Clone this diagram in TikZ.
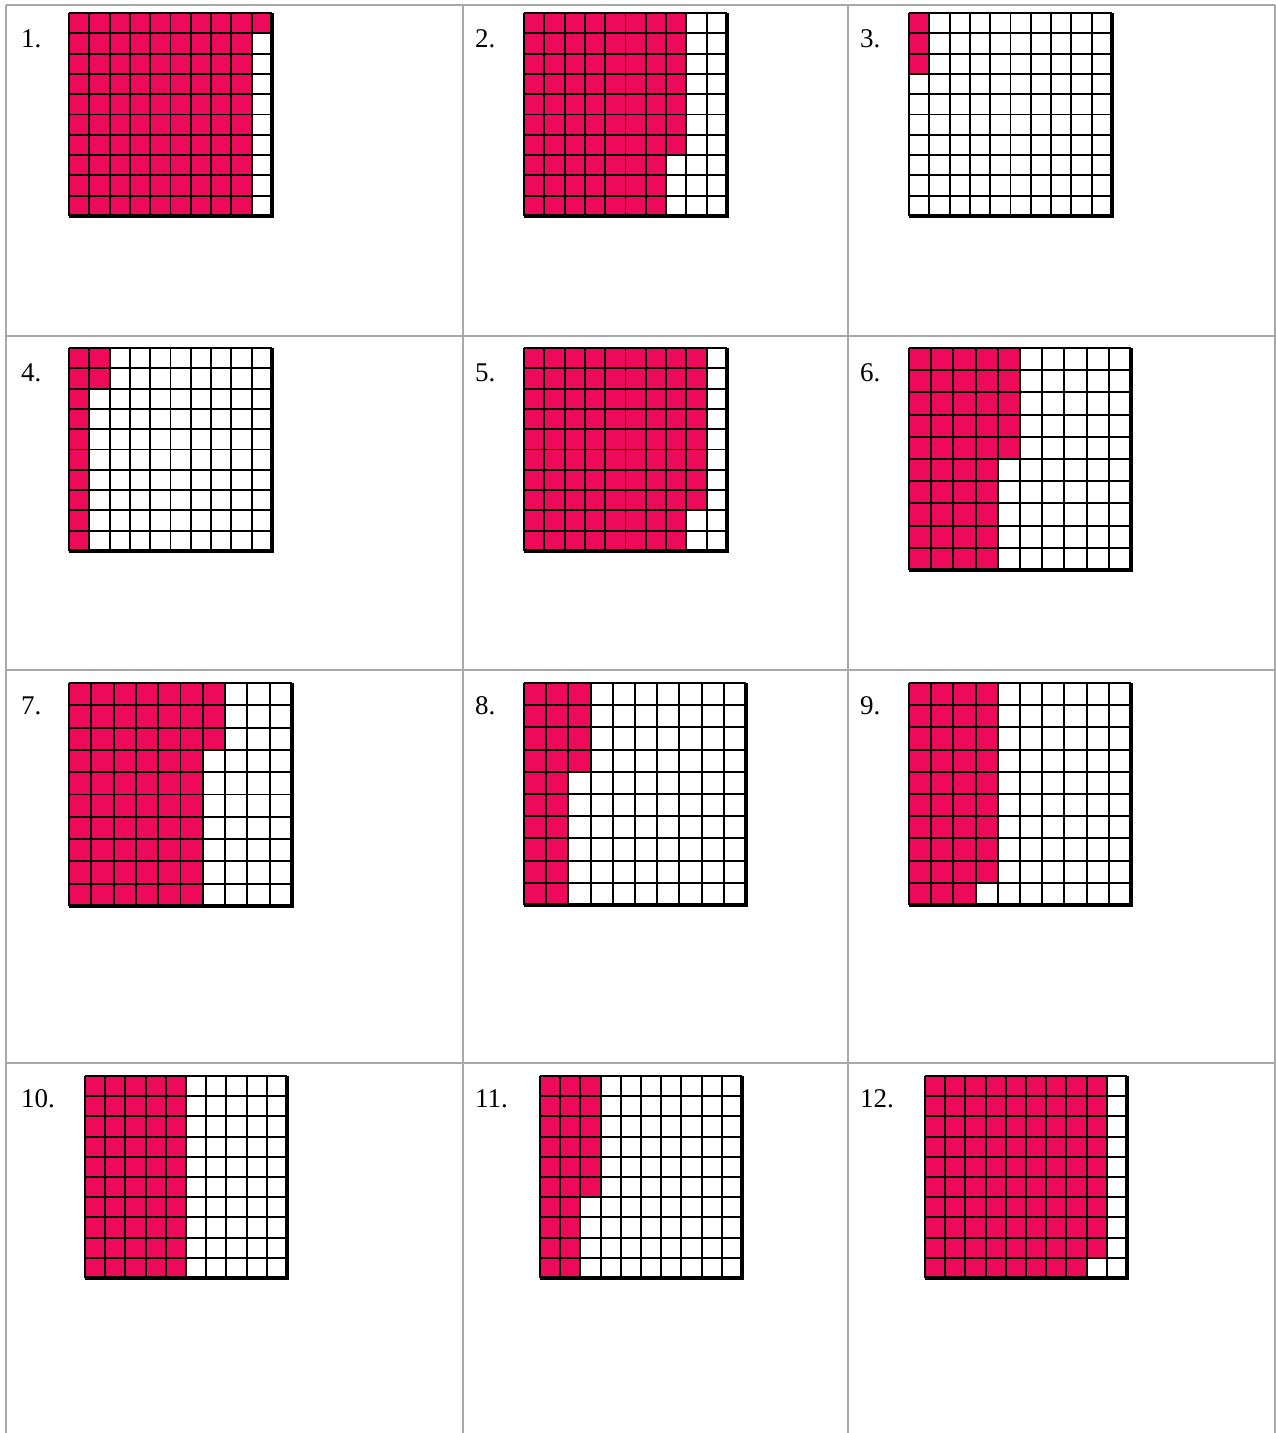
\documentclass[tikz,border=0pt]{standalone}
\usepackage{fontspec}
\setmainfont{Liberation Serif}
\definecolor{shadecol}{HTML}{EE0A5A}
\definecolor{rulecol}{HTML}{A8A8A8}
\tikzset{
  gridline/.style={black, line width=1.9pt},
  gridedge/.style={black, line width=3.4pt},
  tablerule/.style={rulecol, line width=1.6pt},
  numlabel/.style={anchor=west, inner sep=0pt, font=\fontsize{27}{29}\selectfont},
  shadefill/.style={fill=shadecol}
}
% #1 left, #2 top, #3 size, #4 full columns, #5 extra cells in next column
\newcommand\hundredgrid[5]{%
  \pgfmathsetmacro\cw{#3/10}%
  \ifnum#4>0 \fill[shadefill] (#1,#2) rectangle ++(#4*\cw,#3);\fi
  \ifnum#5>0 \fill[shadefill] (#1+#4*\cw,#2) rectangle ++(\cw,#5*\cw);\fi
  \foreach \i in {0,...,10}{%
    \draw[gridline] (#1+\i*\cw,#2) -- ++(0,#3);
    \draw[gridline] (#1,#2+\i*\cw) -- ++(#3,0);
  }%
  \draw[gridedge] (#1+#3,#2) -- ++(0,#3) -- ++(-#3,0);
}
\begin{document}
\begin{tikzpicture}[x=1pt,y=-1pt]
\useasboundingbox (0,0) rectangle (1276,1433);
\fill[white] (0,0) rectangle (1276,1433);
% table rules
\foreach \xx in {6,463,848,1275}{\draw[tablerule] (\xx,5) -- (\xx,1433);}
\foreach \yy in {5,336,670,1063}{\draw[tablerule] (6,\yy) -- (1275,\yy);}
% grids
\hundredgrid{69}{13}{203}{9}{1}
\hundredgrid{524}{13}{203}{7}{7}
\hundredgrid{909}{13}{203}{0}{3}
\hundredgrid{69}{348}{203}{1}{2}
\hundredgrid{524}{348}{203}{8}{8}
\hundredgrid{909}{348}{222}{4}{5}
\hundredgrid{69}{683}{223}{6}{3}
\hundredgrid{524}{683}{222}{2}{4}
\hundredgrid{909}{683}{222}{3}{9}
\hundredgrid{85}{1076}{202}{5}{0}
\hundredgrid{540}{1076}{202}{2}{6}
\hundredgrid{925}{1076}{202}{8}{9}
% labels
\node[numlabel] (n1) at (21,39) {1.};
\node[numlabel] (n2) at (475,39) {2.};
\node[numlabel] (n3) at (860,39) {3.};
\node[numlabel] (n4) at (21,373) {4.};
\node[numlabel] (n5) at (475,373) {5.};
\node[numlabel] (n6) at (860,373) {6.};
\node[numlabel] (n7) at (21,706) {7.};
\node[numlabel] (n8) at (475,706) {8.};
\node[numlabel] (n9) at (860,706) {9.};
\node[numlabel] (n10) at (21,1099) {10.};
\node[numlabel] (n11) at (475,1099) {11.};
\node[numlabel] (n12) at (860,1099) {12.};
\end{tikzpicture}
\end{document}
